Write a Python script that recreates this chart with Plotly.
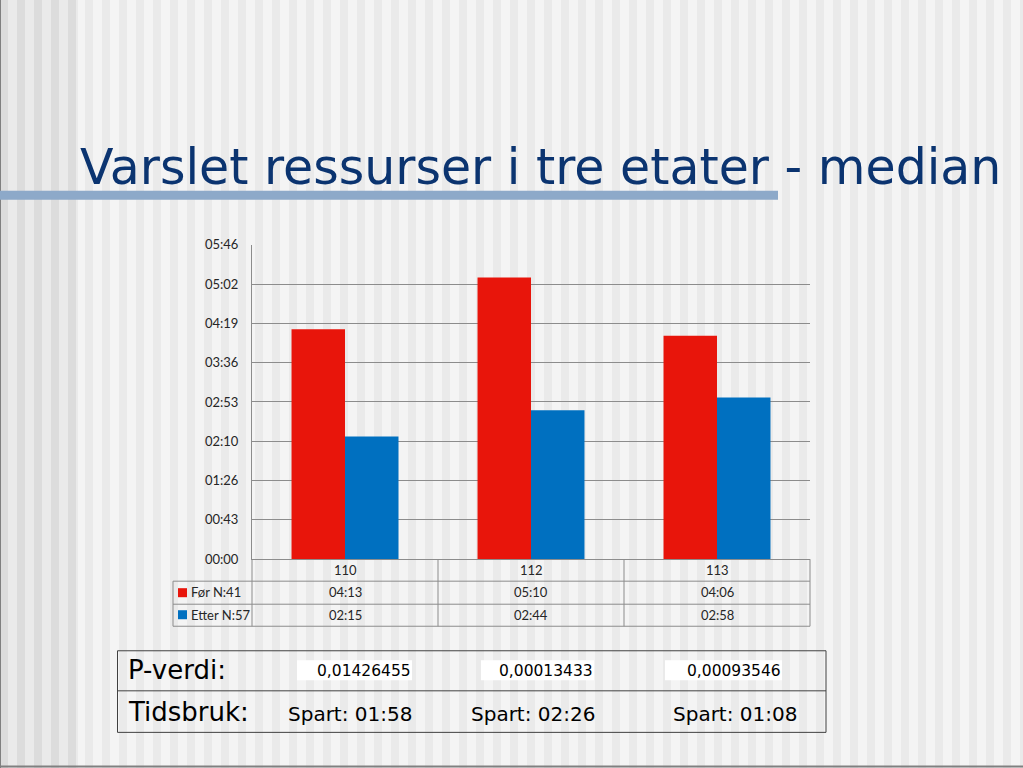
import plotly.graph_objects as go

W, H = 1023, 768

categories = ["110", "112", "113"]
for_label = "Før N:41"
etter_label = "Etter N:57"
for_times = ["04:13", "05:10", "04:06"]
etter_times = ["02:15", "02:44", "02:58"]
p_values = ["0,01426455", "0,00013433", "0,00093546"]
y_tick_labels = ["00:00", "00:43", "01:26", "02:10", "02:53", "03:36", "04:19", "05:02", "05:46"]
y_max_label = "05:46"
title_text = "Varslet ressurser i tre etater - median"


def to_sec(s):
    m, sec = s.split(":")
    return int(m) * 60 + int(sec)


def fmt(sec):
    return f"{sec // 60:02d}:{sec % 60:02d}"


for_sec = [to_sec(s) for s in for_times]
etter_sec = [to_sec(s) for s in etter_times]
saved = ["Spart: " + fmt(a - b) for a, b in zip(for_sec, etter_sec)]
y_max = to_sec(y_max_label)
n_ticks = len(y_tick_labels) - 1
tick_vals = [y_max * i / n_ticks for i in range(n_ticks + 1)]

RED = "#E8150B"
BLUE = "#0070C0"
GRID = "#8C8C8C"
CHART_FONT = "Lato, Carlito, 'Liberation Sans', sans-serif"
SLIDE_FONT = "'DejaVu Sans', Verdana, sans-serif"

Y_OFF, Y_SCALE = 8.5, 0.978


def px(x):
    return x / W


def py(y):
    return 1 - ((y - Y_OFF) / Y_SCALE) / H


fig = go.Figure()
fig.add_trace(go.Bar(x=categories, y=for_sec, name=for_label, marker=dict(color=RED, line=dict(width=0))))
fig.add_trace(go.Bar(x=categories, y=etter_sec, name=etter_label, marker=dict(color=BLUE, line=dict(width=0))))

shapes = []
# background stripes
shapes.append(dict(type="rect", xref="paper", yref="paper", x0=0, x1=1, y0=-0.1, y1=1.1,
                   fillcolor="#F4F4F4", line=dict(width=0), layer="below"))
shapes.append(dict(type="rect", xref="paper", yref="paper", x0=0, x1=px(78), y0=-0.1, y1=1.1,
                   fillcolor="#EAEAEA", line=dict(width=0), layer="below"))
x = 0
while x < W:
    col = "#DCDCDC" if x < 78 else "#EAEAEA"
    x1 = min(x + 8, 78) if x < 78 else x + 8
    shapes.append(dict(type="rect", xref="paper", yref="paper", x0=px(x), x1=px(x1),
                       y0=-0.1, y1=1.1, fillcolor=col, line=dict(width=0), layer="below"))
    x += 17
# left and bottom edges
shapes.append(dict(type="line", xref="paper", yref="paper", x0=px(0.5), x1=px(0.5), y0=-0.1, y1=1.1,
                   line=dict(color="#808080", width=1)))
shapes.append(dict(type="line", xref="paper", yref="paper", x0=0, x1=1, y0=py(766), y1=py(766),
                   line=dict(color="#808080", width=2)))
# title underline bar
shapes.append(dict(type="rect", xref="paper", yref="paper", x0=0, x1=px(778), y0=py(200), y1=py(191),
                   fillcolor="#8DA9C9", line=dict(width=0)))

# data table lines
tl = dict(color=GRID, width=1)
for yy in (581, 604, 626):
    shapes.append(dict(type="line", xref="paper", yref="paper", x0=px(173), x1=px(810), y0=py(yy), y1=py(yy), line=tl))
shapes.append(dict(type="line", xref="paper", yref="paper", x0=px(173), x1=px(173), y0=py(581), y1=py(626), line=tl))
for xx in (252, 438, 624, 810):
    shapes.append(dict(type="line", xref="paper", yref="paper", x0=px(xx), x1=px(xx), y0=py(559), y1=py(626), line=tl))
# legend keys
shapes.append(dict(type="rect", xref="paper", yref="paper", x0=px(178), x1=px(187), y0=py(597), y1=py(588),
                   fillcolor=RED, line=dict(width=0)))
shapes.append(dict(type="rect", xref="paper", yref="paper", x0=px(178), x1=px(187), y0=py(619), y1=py(610),
                   fillcolor=BLUE, line=dict(width=0)))

# bottom table
shapes.append(dict(type="rect", xref="paper", yref="paper", x0=px(117.5), x1=px(826), y0=py(732), y1=py(650.5),
                   line=dict(color="#404040", width=1)))
shapes.append(dict(type="line", xref="paper", yref="paper", x0=px(117.5), x1=px(826), y0=py(690.5), y1=py(690.5),
                   line=dict(color="#404040", width=1)))
box_x = [(297, 412), (481, 594), (665, 782)]
for (a, b) in box_x:
    shapes.append(dict(type="rect", xref="paper", yref="paper", x0=px(a), x1=px(b), y0=py(680), y1=py(660),
                       fillcolor="#FFFFFF", line=dict(width=0)))

annotations = []
annotations.append(dict(text=title_text, xref="paper", yref="paper", x=px(78), y=py(168), xanchor="left",
                        yanchor="middle", showarrow=False,
                        font=dict(family=SLIDE_FONT, size=49, color="#0B3470")))
cat_centers = [345, 531, 717]
for i, c in enumerate(categories):
    for yy, txt in ((570, c), (592, for_times[i]), (615, etter_times[i])):
        annotations.append(dict(text=txt, xref="paper", yref="paper", x=px(cat_centers[i]), y=py(yy),
                                xanchor="center", yanchor="middle", showarrow=False,
                                font=dict(family=CHART_FONT, size=13, color="#262626")))
annotations.append(dict(text=for_label, xref="paper", yref="paper", x=px(189), y=py(592), xanchor="left",
                        yanchor="middle", showarrow=False, font=dict(family=CHART_FONT, size=13, color="#262626")))
annotations.append(dict(text=etter_label, xref="paper", yref="paper", x=px(189), y=py(615), xanchor="left",
                        yanchor="middle", showarrow=False, font=dict(family=CHART_FONT, size=13, color="#262626")))

annotations.append(dict(text="P-verdi:", xref="paper", yref="paper", x=px(126), y=py(670), xanchor="left",
                        yanchor="middle", showarrow=False, font=dict(family=SLIDE_FONT, size=26, color="#000000")))
annotations.append(dict(text="Tidsbruk:", xref="paper", yref="paper", x=px(126), y=py(712), xanchor="left",
                        yanchor="middle", showarrow=False, font=dict(family=SLIDE_FONT, size=26, color="#000000")))
for i in range(3):
    a, b = box_x[i]
    annotations.append(dict(text=p_values[i], xref="paper", yref="paper", x=px(b + 1), y=py(671), xanchor="right",
                            yanchor="middle", showarrow=False,
                            font=dict(family=SLIDE_FONT, size=15.5, color="#000000")))
spart_centers = [350, 533, 735]
for i in range(3):
    annotations.append(dict(text=saved[i], xref="paper", yref="paper", x=px(spart_centers[i]), y=py(714),
                            xanchor="center", yanchor="middle", showarrow=False,
                            font=dict(family=SLIDE_FONT, size=20, color="#000000")))

fig.update_layout(
    width=W, height=H,
    margin=dict(l=0, r=0, t=0, b=0),
    paper_bgcolor="#F4F4F4",
    plot_bgcolor="rgba(0,0,0,0)",
    barmode="group",
    bargap=0.425,
    bargroupgap=0,
    showlegend=False,
    shapes=shapes,
    annotations=annotations,
    xaxis=dict(domain=[px(252), px(810)], showticklabels=False, showgrid=False, zeroline=False,
               showline=True, linecolor=GRID, linewidth=1, ticks=""),
    yaxis=dict(domain=[py(559), py(245)], range=[0, y_max], tickvals=tick_vals, ticktext=y_tick_labels,
               showgrid=True, gridcolor=GRID, gridwidth=1, zeroline=False, showline=True, linecolor=GRID,
               linewidth=1, ticks="", ticklabelstandoff=10,
               tickfont=dict(family=CHART_FONT, size=13, color="#262626")),
)

fig.write_html("out.html")
